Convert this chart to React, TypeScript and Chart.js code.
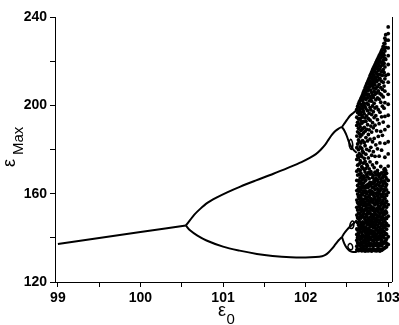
import React, { useEffect, useRef } from 'react';
import { Chart, registerables } from 'chart.js';

Chart.register(...registerables);

// ---- Axis setup ----
const X_MIN = 98.965;
const X_MAX = 103.04;
const Y_MIN = 120;
const Y_MAX = 240;
const X_TICKS = [99, 99.5, 100, 100.5, 101, 101.5, 102, 102.5, 103];
const X_LABELED = [99, 100, 101, 102, 103];
const Y_TICKS = [120, 140, 160, 180, 200, 220, 240];
const Y_LABELED = [120, 160, 200, 240];

// ---- Period-1 and period-2 branches (x = ε0, y = εMax) ----
const mainBranch: [number, number][] = [
  [99, 137.2], [99.5, 139.9], [100, 142.6], [100.3, 144.2], [100.55, 145.6],
];
const upperBranch: [number, number][] = [
  [100.55, 145.6], [100.6, 148.0], [100.65, 150.4], [100.72, 153.0], [100.81, 155.8],
  [100.92, 158.2], [101.05, 160.6], [101.21, 163.2], [101.4, 166.0], [101.61, 169.0],
  [101.8, 171.9], [101.95, 174.3], [102.05, 176.2], [102.12, 177.8], [102.18, 179.8],
  [102.24, 182.3], [102.28, 184.6], [102.32, 186.7], [102.36, 188.4], [102.4, 189.5],
  [102.44, 190.2],
];
const lowerBranch: [number, number][] = [
  [100.55, 145.6], [100.6, 143.4], [100.69, 141.0], [100.8, 138.8], [101.0, 136.0],
  [101.2, 134.2], [101.41, 132.7], [101.6, 131.8], [101.82, 131.2], [102.0, 131.1],
  [102.12, 131.3], [102.2, 131.7], [102.24, 132.3], [102.28, 133.5], [102.32, 135.1],
  [102.36, 137.0], [102.4, 138.9], [102.44, 140.4],
];
// ---- Period-4 branches ----
const upUp: [number, number][] = [
  [102.44, 190.2], [102.47, 191.8], [102.5, 193.4], [102.54, 195.4], [102.58, 196.6], [102.62, 198.0],
];
const upLow: [number, number][] = [
  [102.44, 190.2], [102.47, 188.5], [102.5, 186.0], [102.52, 183.8], [102.55, 181.5], [102.58, 179.8], [102.62, 178.5],
];
const upLoop: [number, number][] = [
  [102.525, 183.4], [102.545, 184.6], [102.565, 183.4], [102.57, 181.0], [102.553, 180.0], [102.53, 181.5], [102.525, 183.4],
];
const lowUp: [number, number][] = [
  [102.44, 140.4], [102.47, 142.2], [102.5, 143.6], [102.53, 144.8], [102.56, 145.8], [102.6, 147.2], [102.62, 148.0],
];
const lowUpLoop: [number, number][] = [
  [102.53, 144.6], [102.545, 146.8], [102.57, 147.6], [102.585, 146.6], [102.575, 144.6], [102.55, 144.2], [102.53, 144.6],
];
const lowLow: [number, number][] = [
  [102.44, 140.4], [102.46, 138.2], [102.48, 136.5], [102.5, 135.3], [102.53, 134.2], [102.56, 133.7], [102.62, 133.6],
];
const lowLowLoop: [number, number][] = [
  [102.51, 136.4], [102.535, 137.4], [102.56, 136.9], [102.57, 135.3], [102.55, 134.6], [102.52, 135.2], [102.51, 136.4],
];

const chaosX: number[] = [
  102.62, 102.63, 102.64, 102.65, 102.66, 102.67, 102.68, 102.69, 102.70, 102.71,
  102.72, 102.73, 102.74, 102.75, 102.76, 102.77, 102.78, 102.79, 102.80, 102.81,
  102.82, 102.83, 102.84, 102.85, 102.86, 102.87, 102.88, 102.89, 102.90, 102.91,
  102.92, 102.93, 102.94, 102.95, 102.96, 102.97, 102.98, 103.00,
];
const chaosY: number[][] = [
  [134.5, 136.2, 138.9, 141.5, 144.0, 150.3, 153.8, 157.1, 161.4, 166.0, 170.2, 175.5, 180.8, 186.1, 190.9, 194.6, 198.2],
  [135.0, 137.8, 140.2, 143.5, 146.9, 149.1, 152.6, 156.0, 159.8, 163.7, 168.4, 172.9, 177.2, 182.5, 188.0, 192.3, 196.7, 199.5],
  [134.2, 136.9, 139.6, 142.1, 145.8, 148.7, 151.2, 155.3, 158.6, 162.2, 165.9, 171.0, 176.4, 179.9, 184.3, 189.6, 193.8, 197.4, 200.6],
  [134.8, 137.3, 141.0, 144.4, 147.6, 150.8, 154.1, 157.7, 160.9, 164.6, 168.8, 173.5, 178.1, 183.6, 187.2, 191.5, 195.9, 199.1, 201.5],
  [134.4, 136.5, 139.1, 142.8, 145.2, 149.5, 152.9, 156.4, 159.2, 163.0, 167.1, 170.6, 175.0, 181.2, 185.8, 190.3, 194.1, 198.0, 202.2],
  [135.2, 138.1, 140.6, 143.9, 146.4, 148.9, 151.7, 155.0, 158.2, 161.8, 165.4, 169.3, 174.1, 177.6, 182.9, 188.7, 193.0, 196.8, 200.4, 203.1],
  [134.1, 136.7, 139.8, 142.4, 145.5, 150.2, 153.4, 156.8, 160.3, 164.1, 167.9, 172.2, 176.8, 180.5, 186.6, 191.9, 195.5, 199.8, 203.9],
  [134.6, 137.5, 141.3, 144.8, 147.2, 149.8, 152.4, 155.9, 159.5, 162.9, 166.5, 171.6, 179.2, 184.0, 189.4, 194.7, 198.6, 202.3, 204.8],
  [134.3, 136.1, 138.6, 140.9, 143.2, 146.1, 151.0, 154.6, 157.4, 161.2, 164.8, 168.1, 173.8, 178.6, 187.5, 192.6, 197.2, 201.1, 203.7, 205.9],
  [134.9, 137.9, 140.4, 143.7, 146.8, 149.3, 152.1, 156.2, 160.6, 163.3, 167.4, 170.9, 176.0, 183.2, 190.0, 196.1, 200.0, 204.4, 206.8],
  [134.0, 136.4, 139.3, 142.6, 145.0, 148.4, 153.0, 155.5, 158.9, 162.5, 165.7, 169.8, 174.6, 181.7, 188.3, 194.3, 199.4, 203.2, 205.6, 207.9],
  [134.7, 137.2, 140.0, 141.8, 144.6, 147.8, 150.5, 154.3, 157.9, 161.0, 166.2, 171.4, 177.9, 185.4, 192.8, 198.5, 202.7, 206.1, 208.8],
  [134.2, 136.0, 138.4, 141.1, 143.4, 146.6, 149.7, 152.8, 156.6, 160.0, 163.9, 168.6, 173.2, 180.1, 189.1, 195.2, 201.0, 204.9, 207.4, 209.7],
  [134.5, 137.0, 139.9, 142.9, 145.9, 148.2, 151.5, 155.1, 158.4, 162.7, 167.6, 172.5, 183.9, 191.2, 197.6, 203.5, 206.7, 210.5],
  [134.1, 136.6, 138.8, 141.7, 144.2, 147.3, 150.9, 153.6, 157.0, 160.8, 164.3, 169.5, 176.2, 186.8, 194.0, 200.3, 205.1, 208.2, 211.4],
  [134.8, 137.6, 140.7, 143.1, 146.0, 149.0, 152.2, 155.8, 159.1, 163.4, 166.8, 171.2, 179.5, 188.9, 196.4, 202.0, 207.0, 209.6, 212.3],
  [134.3, 136.3, 139.4, 142.2, 144.9, 148.0, 151.3, 154.8, 158.1, 161.6, 165.1, 168.9, 174.4, 184.7, 193.3, 199.0, 204.2, 208.6, 211.1, 213.4],
  [134.6, 137.4, 140.1, 143.3, 146.5, 149.6, 153.1, 156.5, 160.2, 164.0, 170.0, 181.0, 190.6, 197.9, 203.0, 206.9, 210.3, 214.2],
  [134.0, 136.8, 139.0, 141.9, 145.3, 147.5, 150.6, 154.0, 157.6, 161.1, 165.0, 169.0, 177.4, 187.9, 195.8, 201.9, 205.8, 209.9, 212.7, 215.1],
  [134.9, 137.1, 140.5, 143.0, 146.2, 148.8, 152.5, 156.1, 159.7, 162.8, 167.3, 173.0, 183.5, 192.2, 199.7, 204.6, 208.9, 211.8, 214.5, 216.0],
  [134.4, 136.2, 138.7, 141.4, 144.5, 147.1, 150.0, 153.5, 157.3, 160.5, 164.5, 168.3, 179.0, 189.8, 197.1, 203.6, 207.8, 211.0, 213.9, 216.8],
  [134.7, 137.7, 140.3, 142.7, 145.7, 149.2, 152.0, 155.4, 158.8, 163.1, 166.1, 171.8, 185.0, 194.5, 200.9, 206.3, 210.1, 213.3, 215.6, 217.6],
  [134.2, 136.9, 139.5, 142.0, 144.7, 147.9, 151.1, 154.9, 157.8, 161.9, 165.6, 169.7, 176.9, 191.0, 198.8, 205.0, 209.2, 212.6, 216.4, 218.4],
  [134.5, 137.3, 140.8, 143.6, 146.3, 148.6, 152.7, 156.3, 159.9, 163.6, 167.0, 182.1, 195.3, 202.5, 207.5, 211.7, 215.0, 217.9, 219.2],
  [134.1, 136.4, 138.9, 141.6, 144.1, 147.4, 150.3, 153.2, 156.9, 160.4, 164.2, 168.5, 174.0, 188.5, 199.3, 205.6, 210.8, 214.4, 217.3, 220.0],
  [134.8, 137.5, 140.2, 143.4, 145.8, 149.4, 152.3, 155.6, 159.0, 162.3, 166.4, 170.5, 180.3, 193.5, 203.4, 208.4, 213.0, 216.7, 219.5, 220.8],
  [134.3, 136.1, 139.2, 142.5, 145.1, 148.1, 151.6, 154.4, 158.3, 161.5, 165.3, 169.1, 185.9, 198.0, 206.5, 211.5, 215.8, 218.8, 221.6],
  [134.6, 137.0, 140.6, 143.2, 146.7, 149.9, 153.3, 156.7, 160.1, 163.8, 167.7, 177.0, 191.7, 202.8, 209.5, 214.1, 218.0, 220.6, 222.4],
  [134.0, 136.7, 139.7, 141.8, 144.4, 147.7, 150.8, 154.2, 157.5, 161.3, 164.9, 168.7, 183.0, 196.9, 205.3, 212.2, 216.5, 219.9, 223.1],
  [134.9, 137.8, 140.9, 143.8, 146.5, 149.1, 152.6, 155.7, 159.4, 162.6, 166.6, 172.3, 188.2, 201.4, 208.0, 213.8, 217.7, 221.4, 223.9],
  [134.4, 136.5, 139.1, 142.3, 145.4, 148.3, 151.4, 155.2, 158.7, 162.1, 165.5, 169.4, 179.7, 194.8, 204.7, 210.9, 215.3, 219.4, 222.8, 224.8],
  [134.7, 137.2, 140.4, 143.0, 146.1, 149.6, 152.9, 156.4, 159.6, 163.5, 167.2, 186.4, 199.6, 207.2, 213.6, 218.3, 221.9, 225.6],
  [135.0, 138.0, 141.2, 144.3, 147.0, 150.4, 153.7, 157.2, 160.7, 164.4, 168.2, 192.4, 203.8, 210.4, 216.2, 220.3, 223.5, 226.7],
  [135.3, 137.6, 140.0, 142.8, 145.6, 148.5, 151.8, 155.3, 158.5, 162.0, 165.8, 169.9, 171.0, 198.7, 208.7, 214.9, 219.0, 222.7, 225.4, 228.1],
  [135.5, 138.3, 141.5, 144.9, 147.5, 150.7, 154.5, 157.9, 161.6, 165.2, 168.8, 171.3, 176.5, 182.8, 189.0, 195.0, 201.2, 206.4, 212.0, 217.4, 221.2, 224.6, 227.9, 230.4],
  [135.8, 138.7, 142.0, 145.7, 149.0, 152.2, 156.0, 159.8, 163.2, 167.5, 170.4, 213.5, 220.8, 226.2, 229.5, 232.0],
  [136.0, 137.5, 139.5, 141.7, 143.9, 146.4, 148.8, 151.4, 153.9, 156.6, 159.2, 161.7, 164.2, 166.7, 169.2],
  [137.0, 140.5, 145.5, 149.8, 155.0, 160.5, 166.0, 172.5, 178.0, 183.5, 190.5, 195.5, 200.5, 205.0, 210.5, 214.0, 218.5, 222.5, 226.0, 229.5, 232.5, 235.5],
];

const FONT = '"Liberation Sans", Arial, sans-serif';

const toPts = (arr: [number, number][]) => arr.map(([x, y]) => ({ x, y }));

const lineDs = (arr: [number, number][], w = 2) => ({
  data: toPts(arr),
  showLine: true,
  borderColor: '#000',
  borderWidth: w,
  pointRadius: 0,
  tension: 0.3,
  fill: false,
});

const framePlugin = {
  id: 'frameAndTitles',
  afterDraw(chart: any) {
    const { ctx, chartArea } = chart;
    ctx.save();
    // right frame line
    ctx.strokeStyle = '#000';
    ctx.lineWidth = 1;
    ctx.beginPath();
    ctx.moveTo(Math.round(chartArea.right) + 0.5, chartArea.top);
    ctx.lineTo(Math.round(chartArea.right) + 0.5, chartArea.bottom);
    ctx.stroke();

    ctx.fillStyle = '#000';
    ctx.textBaseline = 'alphabetic';
    ctx.textAlign = 'left';
    // x title: ε0
    ctx.font = `18px ${FONT}`;
    ctx.fillText('ε', 218, 316);
    const wx = ctx.measureText('ε').width;
    ctx.font = `15px ${FONT}`;
    ctx.fillText('0', 218 + wx + 0.5, 324);

    // y title: εMax rotated
    ctx.translate(15, 167);
    ctx.rotate(-Math.PI / 2);
    ctx.font = `18px ${FONT}`;
    ctx.fillText('ε', 0, 0);
    const wy = ctx.measureText('ε').width;
    ctx.font = `15px ${FONT}`;
    ctx.fillText('Max', wy + 4, 8);
    ctx.restore();
  },
};

export default function App() {
  const ref = useRef<HTMLCanvasElement>(null);

  useEffect(() => {
    if (!ref.current) return;
    const chaosPts: { x: number; y: number }[] = [];
    chaosX.forEach((x, i) => chaosY[i].forEach((y) => chaosPts.push({ x, y })));

    const chart = new Chart(ref.current, {
      type: 'scatter',
      data: {
        datasets: [
          {
            data: chaosPts,
            pointRadius: 1.9,
            pointBackgroundColor: '#000',
            pointBorderWidth: 0,
            showLine: false,
          } as any,
          lineDs(mainBranch),
          lineDs(upperBranch),
          lineDs(lowerBranch),
          lineDs(upUp),
          lineDs(upLow),
          lineDs(upLoop, 1.5),
          lineDs(lowUp),
          lineDs(lowUpLoop, 1.5),
          lineDs(lowLow),
          lineDs(lowLowLoop, 1.5),
        ],
      },
      options: {
        animation: false,
        responsive: false,
        events: [],
        layout: { padding: { top: 17, right: 7.5, left: 0, bottom: 0 } },
        plugins: { legend: { display: false }, tooltip: { enabled: false } },
        scales: {
          x: {
            type: 'linear',
            min: X_MIN,
            max: X_MAX,
            afterBuildTicks: (s: any) => {
              s.ticks = X_TICKS.map((v) => ({ value: v }));
            },
            afterFit: (s: any) => {
              s.height = 43;
              s.paddingLeft = 0;
              s.paddingRight = 0;
            },
            ticks: {
              autoSkip: false,
              maxRotation: 0,
              padding: 3,
              color: '#000',
              font: { family: FONT, size: 14, weight: 'bold' },
              callback: (v: any) => (X_LABELED.includes(Number(v)) ? String(v) : ''),
            },
            grid: { drawOnChartArea: false, drawTicks: true, tickLength: 5, color: '#000' },
            border: { display: true, color: '#000', width: 1 },
          },
          y: {
            type: 'linear',
            min: Y_MIN,
            max: Y_MAX,
            afterBuildTicks: (s: any) => {
              s.ticks = Y_TICKS.map((v) => ({ value: v }));
            },
            afterFit: (s: any) => {
              s.width = 55;
              s.paddingTop = 0;
              s.paddingBottom = 0;
            },
            ticks: {
              autoSkip: false,
              padding: 3,
              color: '#000',
              font: { family: FONT, size: 14, weight: 'bold' },
              callback: (v: any) => (Y_LABELED.includes(Number(v)) ? String(v) : ''),
            },
            grid: { drawOnChartArea: false, drawTicks: true, tickLength: 5, color: '#000' },
            border: { display: true, color: '#000', width: 1 },
          },
        },
      },
      plugins: [framePlugin],
    });
    return () => chart.destroy();
  }, []);

  return (
    <div style={{ position: 'fixed', left: 0, top: 0, width: 399, height: 325, background: '#fff' }}>
      <canvas ref={ref} width={399} height={325} style={{ width: 399, height: 325, display: 'block' }} />
    </div>
  );
}
